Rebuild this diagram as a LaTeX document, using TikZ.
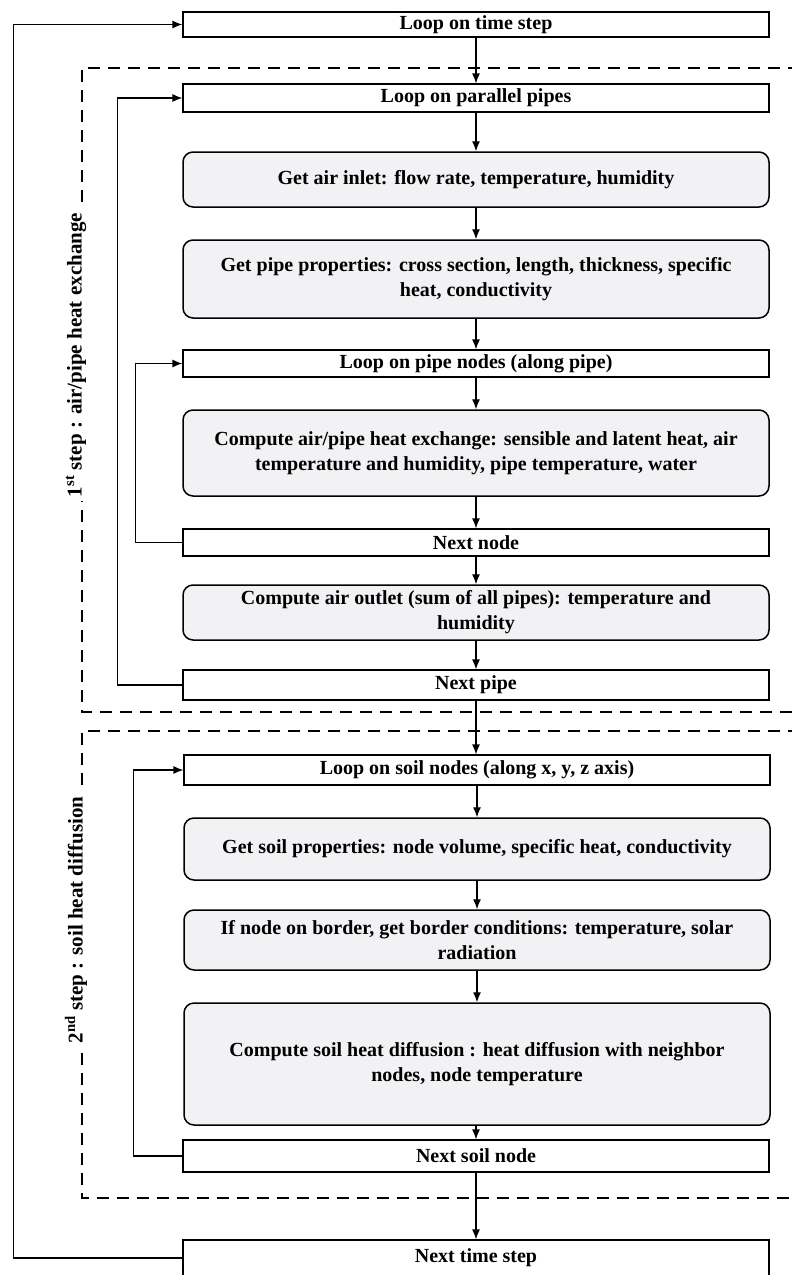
\documentclass[tikz,border=0pt]{standalone}
\usepackage{fontspec}
\setmainfont{Liberation Serif}
\usetikzlibrary{arrows.meta,positioning}
\definecolor{boxgray}{RGB}{242,242,245}

\begin{document}
\begin{tikzpicture}[x=1pt,y=-1pt,
  >={Latex[length=10pt,width=8pt]},
  loopbox/.style={draw,line width=1.2pt,minimum width=586pt,inner sep=2pt,
    align=center,font=\bfseries\fontsize{20}{25}\selectfont},
  taskbox/.style={loopbox,rounded corners=10pt,fill=boxgray,line width=1.5pt},
  steplabel/.style={rotate=90,fill=white,inner sep=4pt,
    font=\bfseries\fontsize{21}{25}\selectfont},
  stepframe/.style={line width=2.6pt,dash pattern=on 12pt off 8pt}]
\useasboundingbox (0,0) rectangle (792,1275);
\clip (0,0) rectangle (792,1275);

% dashed frames of the two steps
\draw[stepframe] (800,68) -- (82,68) -- (82,712) -- (800,712);
\draw[stepframe] (800,731) -- (82,731) -- (82,1198) -- (800,1198);
\node[steplabel] (lab1) at (76,355) {1\textsuperscript{st} step : air/pipe heat exchange};
\node[steplabel] (lab2) at (76,920) {2\textsuperscript{nd} step : soil heat diffusion};

% 1st step
\node[loopbox,minimum height=25pt] (tstep) at (476,24.5) {Loop on time step};
\node[loopbox,minimum height=28pt] (ppipes) at (476,98) {Loop on parallel pipes};
\node[taskbox,minimum height=55pt] (airin) at (476,179.5) {Get air inlet: flow rate, temperature, humidity};
\node[taskbox,minimum height=78pt] (pprop) at (476,279) {Get pipe properties: cross section, length, thickness, specific\\heat, conductivity};
\node[loopbox,minimum height=27pt] (pnodes) at (476,363.5) {Loop on pipe nodes (along pipe)};
\node[taskbox,minimum height=86pt] (exch) at (476,453) {Compute air/pipe heat exchange: sensible and latent heat, air\\temperature and humidity, pipe temperature, water};
\node[loopbox,minimum height=27pt] (nnode) at (476,542.5) {Next node};
\node[taskbox,minimum height=55pt] (airout) at (476,612.5) {Compute air outlet (sum of all pipes): temperature and\\humidity};
\node[loopbox,minimum height=30pt] (npipe) at (476,685) {Next pipe};

% 2nd step
\node[loopbox,minimum height=30pt] (snodes) at (477,770) {Loop on soil nodes (along x, y, z axis)};
\node[taskbox,minimum height=62pt] (sprop) at (477,849) {Get soil properties: node volume, specific heat, conductivity};
\node[taskbox,minimum height=60pt] (border) at (477,940) {If node on border, get border conditions: temperature, solar\\radiation};
\node[taskbox,minimum height=122pt] (sdiff) at (477,1064) {Compute soil heat diffusion : heat diffusion with neighbor\\nodes, node temperature};
\node[loopbox,minimum height=32pt] (nsoil) at (476,1156) {Next soil node};
\node[loopbox,minimum height=36pt] (ntime) at (476,1258) {Next time step};

% main flow
\draw[->,line width=1.2pt] (tstep) -- (ppipes);
\draw[->,line width=1.2pt] (ppipes) -- (airin);
\draw[->,line width=1.2pt] (airin) -- (pprop);
\draw[->,line width=1.2pt] (pprop) -- (pnodes);
\draw[->,line width=1.2pt] (pnodes) -- (exch);
\draw[->,line width=1.2pt] (exch) -- (nnode);
\draw[->,line width=1.2pt] (nnode) -- (airout);
\draw[->,line width=1.2pt] (airout) -- (npipe);
\draw[->,line width=1.2pt] (npipe) -- (npipe |- snodes.north);
\draw[->,line width=1.2pt] (snodes) -- (sprop);
\draw[->,line width=1.2pt] (sprop) -- (border);
\draw[->,line width=1.2pt] (border) -- (sdiff);
\draw[->,line width=1.2pt] (sdiff.south -| nsoil) -- (nsoil);
\draw[->,line width=1.2pt] (nsoil) -- (ntime);

% loop backs
\draw[->,line width=1.2pt] (nnode.west) -- ++(-47,0) |- (pnodes.west);
\draw[->,line width=1.2pt] (npipe.west) -- ++(-65,0) |- (ppipes.west);
\draw[->,line width=1.2pt] (nsoil.west) -- ++(-49,0) |- (snodes.west);
\draw[->,line width=1.2pt] (ntime.west) -- ++(-169,0) |- (tstep.west);
\end{tikzpicture}
\end{document}
